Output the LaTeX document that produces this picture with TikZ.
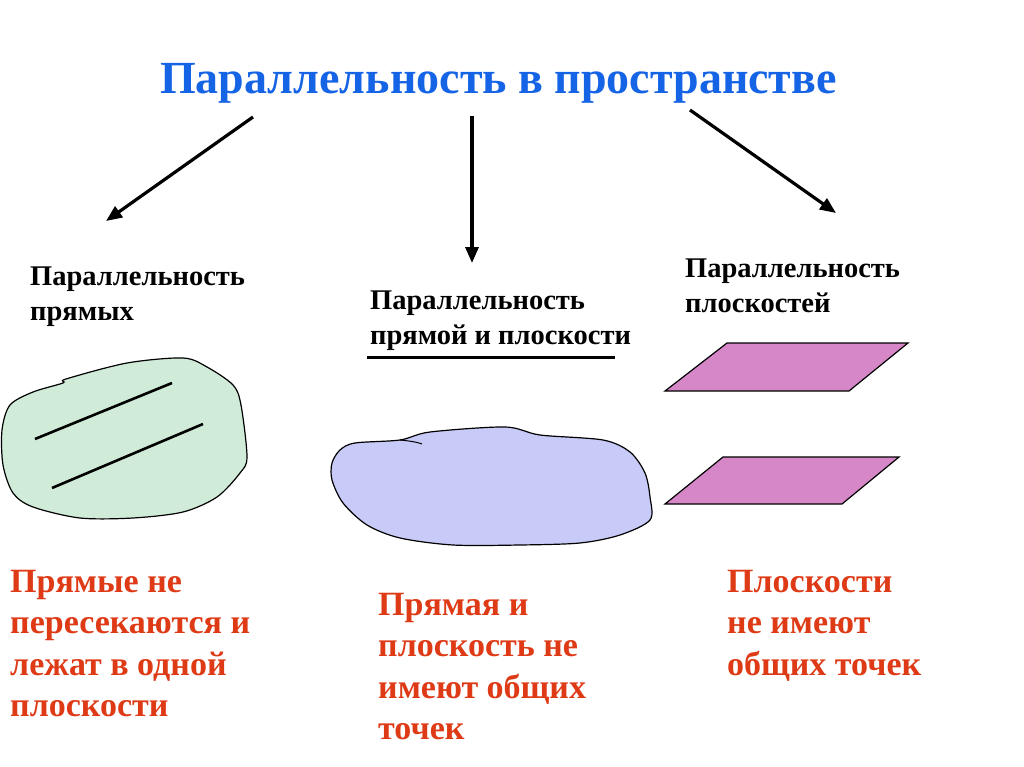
\documentclass[tikz,border=0pt]{standalone}
\usepackage{fontspec}
\setmainfont{Liberation Serif}
\usetikzlibrary{arrows.meta}
\definecolor{titleblue}{RGB}{22,100,230}
\definecolor{factred}{RGB}{222,58,22}
\definecolor{blobgreen}{RGB}{208,235,216}
\definecolor{blobblue}{RGB}{200,202,248}
\definecolor{planepink}{RGB}{214,135,200}
\tikzset{
  heading/.style={anchor=north west,inner sep=0pt,text=titleblue,font=\bfseries\fontsize{46}{54}\selectfont},
  label/.style={anchor=north west,inner sep=0pt,align=left,font=\bfseries\fontsize{28.5}{34.5}\selectfont},
  fact/.style={anchor=north west,inner sep=0pt,align=left,text=factred,font=\bfseries\fontsize{34}{41.5}\selectfont},
  pointer/.style={line width=3.2pt,-{Triangle[length=16pt,width=13pt]}},
  blob/.style={draw,line width=1.2pt},
  plane/.style={draw,line width=1.2pt,fill=planepink}
}
\begin{document}
\begin{tikzpicture}[x=1pt,y=-1pt]
\useasboundingbox (0,0) rectangle (1024,767);

\node[heading] (title) at (160,63) {Параллельность в пространстве};

\coordinate (from1) at (253,117);
\coordinate (to1) at (106,221);
\coordinate (from2) at (472,116);
\coordinate (to2) at (472,263);
\coordinate (from3) at (690,110);
\coordinate (to3) at (836,213);
\draw[pointer] (from1) -- (to1);
\draw[pointer] (from2) -- (to2);
\draw[pointer] (from3) -- (to3);

\node[label] (lines) at (30,267) {Параллельность\\прямых};
\node[label] (lineplane) at (370,291) {Параллельность\\прямой и плоскости};
\node[label] (planes) at (685,259) {Параллельность\\плоскостей};
\draw[line width=3pt] (367,357) -- (615,357);

% green blob with two lines
\draw[blob,fill=blobgreen] plot[smooth cycle, tension=.5] coordinates {(2,430) (10,405) (33,392) (63,383) (66,379) (127,363) (183,358) (207,367) (233,385) (241,405) (247,457) (240,473) (217,497) (183,512) (133,518) (80,518) (33,507) (13,493) (3,465)};
\draw[line width=2.6pt] (35,439) -- (172,383);
\draw[line width=2.6pt] (52,488) -- (203,424);

% blue blob
\draw[blob,fill=blobblue] plot[smooth cycle, tension=.5] coordinates {(332,463) (340,450) (355,443) (400,440) (430,432) (505,427) (540,435) (603,440) (630,452) (645,473) (650,497) (650,520) (620,535) (580,543) (520,545) (453,545) (400,538) (367,525) (343,503) (332,480)};
\draw[line width=1pt] (400,440) .. controls (410,441) and (417,442) .. (422,444);

% two planes
\draw[plane] (665,391) -- (727,343) -- (908,343) -- (849,391) -- cycle;
\draw[plane] (665,504) -- (723,457) -- (899,457) -- (842,504) -- cycle;

\node[fact] (factlines) at (10,570) {Прямые не\\пересекаются и\\лежат в одной\\плоскости};
\node[fact] (factlineplane) at (378,593) {Прямая и\\плоскость не\\имеют общих\\точек};
\node[fact] (factplanes) at (727,570) {Плоскости\\не имеют\\общих точек};
\end{tikzpicture}
\end{document}
